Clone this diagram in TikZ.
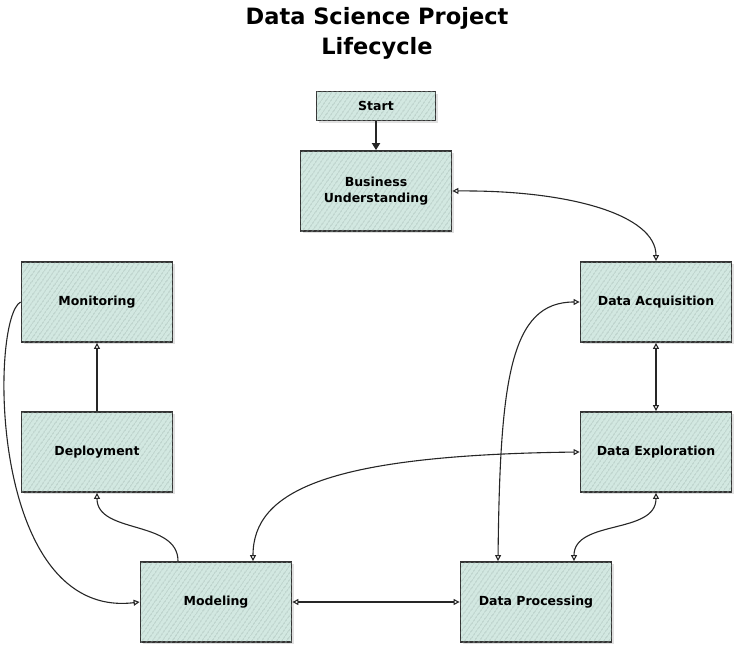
\documentclass[tikz,border=0pt]{standalone}
\usepackage{fontspec}
\setmainfont{DejaVu Sans}
\usetikzlibrary{arrows.meta,patterns.meta}

\begin{document}
\begin{tikzpicture}[x=1pt,y=-1pt]
\tikzstyle{stage}=[rectangle,draw=black!80,line width=1.8pt,preaction={fill=black!12,transform canvas={xshift=2pt,yshift=-2pt}},fill={rgb,255:red,210;green,232;blue,225},postaction={pattern={Lines[angle=55,distance=4pt,line width=0.6pt]},pattern color={rgb,255:red,160;green,182;blue,176}},minimum width=151pt,minimum height=80pt,align=center,font=\bfseries\fontsize{12.5}{16}\selectfont]
\tikzstyle{link}=[draw=black!85,line width=1.1pt,{Triangle[open,length=6pt,width=6pt]}-{Triangle[open,length=6pt,width=6pt]}]
\tikzstyle{oneway}=[link,-{Triangle[open,length=6pt,width=6pt]}]
\useasboundingbox (0,0) rectangle (734,645);
\node[font=\bfseries\fontsize{22.5}{30}\selectfont,align=center] (title) at (377,33) {Data Science Project\\Lifecycle};
\node[stage,minimum width=119pt,minimum height=29pt] (start) at (376,106) {Start};
\node[stage] (bu) at (376,191) {Business\\Understanding};
\node[stage] (mon) at (97,302) {Monitoring};
\node[stage] (dep) at (97,452) {Deployment};
\node[stage] (mod) at (216,602) {Modeling};
\node[stage] (dp) at (536,602) {Data Processing};
\node[stage] (da) at (656,302) {Data Acquisition};
\node[stage] (de) at (656,452) {Data Exploration};
\draw[draw=black!85,line width=2.6pt,-{Triangle[length=7pt,width=8pt]}] (start) -- (bu);
\draw[link] (bu.east) .. controls (570,190) and (656,215) .. (da.north);
\draw[oneway] (dep) -- (mon);
\draw[oneway] ([xshift=-38pt]mod.north) to[out=90,in=-90] (dep.south);
\draw[oneway] (mon.west) .. controls (-10,318) and (-12,620) .. (mod.west);
\draw[link] ([xshift=37pt]mod.north) .. controls (253,490) and (330,455) .. (de.west);
\draw[link] (mod) -- (dp);
\draw[link] ([xshift=-38pt]dp.north) .. controls (500,380) and (510,302) .. (da.west);
\draw[link] (da) -- (de);
\draw[link] (de.south) to[out=-90,in=90] ([xshift=38pt]dp.north);
\end{tikzpicture}
\end{document}
